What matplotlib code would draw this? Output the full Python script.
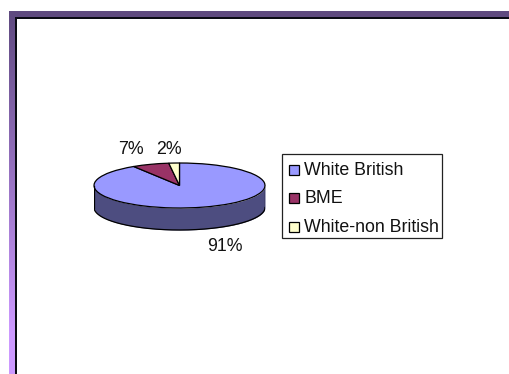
import numpy as np
import matplotlib
matplotlib.use('Agg')
import matplotlib.pyplot as plt
from matplotlib.colors import LinearSegmentedColormap
from matplotlib.patches import Rectangle

plt.rcParams['font.family'] = ['Liberation Sans', 'DejaVu Sans']

# data
groups = ['White British', 'BME', 'White-non British']
shares = [91, 7, 2]
colors = ['#9999FF', '#993366', '#FFFFCC']
side_color = '#4D4D80'

W, H = 509, 374
fig = plt.figure(figsize=(W / 100, H / 100), dpi=100, facecolor='white')

# slide frame, drawn in pixel coordinates
bg = fig.add_axes([0, 0, 1, 1])
bg.set_xlim(0, W)
bg.set_ylim(H, 0)
bg.axis('off')
ramp = LinearSegmentedColormap.from_list('ramp', [(0, '#5F4A80'), (0.88, '#CC99FF'), (1, '#CC99FF')])
bg.imshow(np.linspace(0, 1, 256).reshape(-1, 1), cmap=ramp, aspect='auto',
          extent=(9, 15, H, 11), zorder=1)
bg.set_xlim(0, W)
bg.set_ylim(H, 0)
bg.add_patch(Rectangle((9, 11), W - 9, 6, fc='#5F4A80', ec='none', zorder=2))
bg.add_patch(Rectangle((15, 17), W - 15, 1.6, fc='#0A0A14', ec='none', zorder=3))
bg.add_patch(Rectangle((15, 17), 1.6, H - 17, fc='#0A0A14', ec='none', zorder=3))

# pie axes: radius 1 maps to the flattened ellipse, wall hangs below it
cx, cy, rx, ry, depth = 179.5, 185.5, 85.5, 22.5, 22.0
ax = fig.add_axes([(cx - rx) / W, 1 - (cy + ry + depth + 2) / H,
                   2 * rx / W, (2 * ry + depth + 4) / H])
ax.patch.set_alpha(0)
wedges, _ = ax.pie(shares, colors=colors, startangle=90, counterclock=False,
                   wedgeprops={'edgecolor': 'black', 'linewidth': 0.9})
ax.set_aspect('auto')
ax.set_xlim(-1, 1)
ax.set_ylim(-1 - (depth + 2) / ry, 1 + 2 / ry)

t = np.linspace(np.pi, 2 * np.pi, 200)
d = depth / ry
ax.fill_between(np.cos(t), np.sin(t), np.sin(t) - d, color=side_color, lw=0, zorder=0)
ax.plot(np.cos(t), np.sin(t) - d, color='black', lw=0.9, zorder=1)
ax.plot([-1, -1], [0, -d], color='black', lw=0.9, zorder=1)
ax.plot([1, 1], [0, -d], color='black', lw=0.9, zorder=1)

# percentage labels
label_pos = [(225, 246), (130.5, 149.5), (169, 149.5)]
for v, (x, y) in zip(shares, label_pos):
    bg.text(x, y, f'{v}%', ha='center', va='center', fontsize=12.8, color='#111111', zorder=5)

# legend box
bg.add_patch(Rectangle((282.5, 154), 160, 84, fc='white', ec='#222222', lw=0.9, zorder=4))
legend_y = [170.5, 198.5, 227.5]
for name, c, y in zip(groups, colors, legend_y):
    bg.add_patch(Rectangle((289.5, y - 5.2), 9.4, 9.4, fc=c, ec='black', lw=0.9, zorder=5))
    bg.text(304.5, y, name, ha='left', va='center', fontsize=12.8, color='#111111', zorder=5)

fig.savefig('out.png', dpi=100)
